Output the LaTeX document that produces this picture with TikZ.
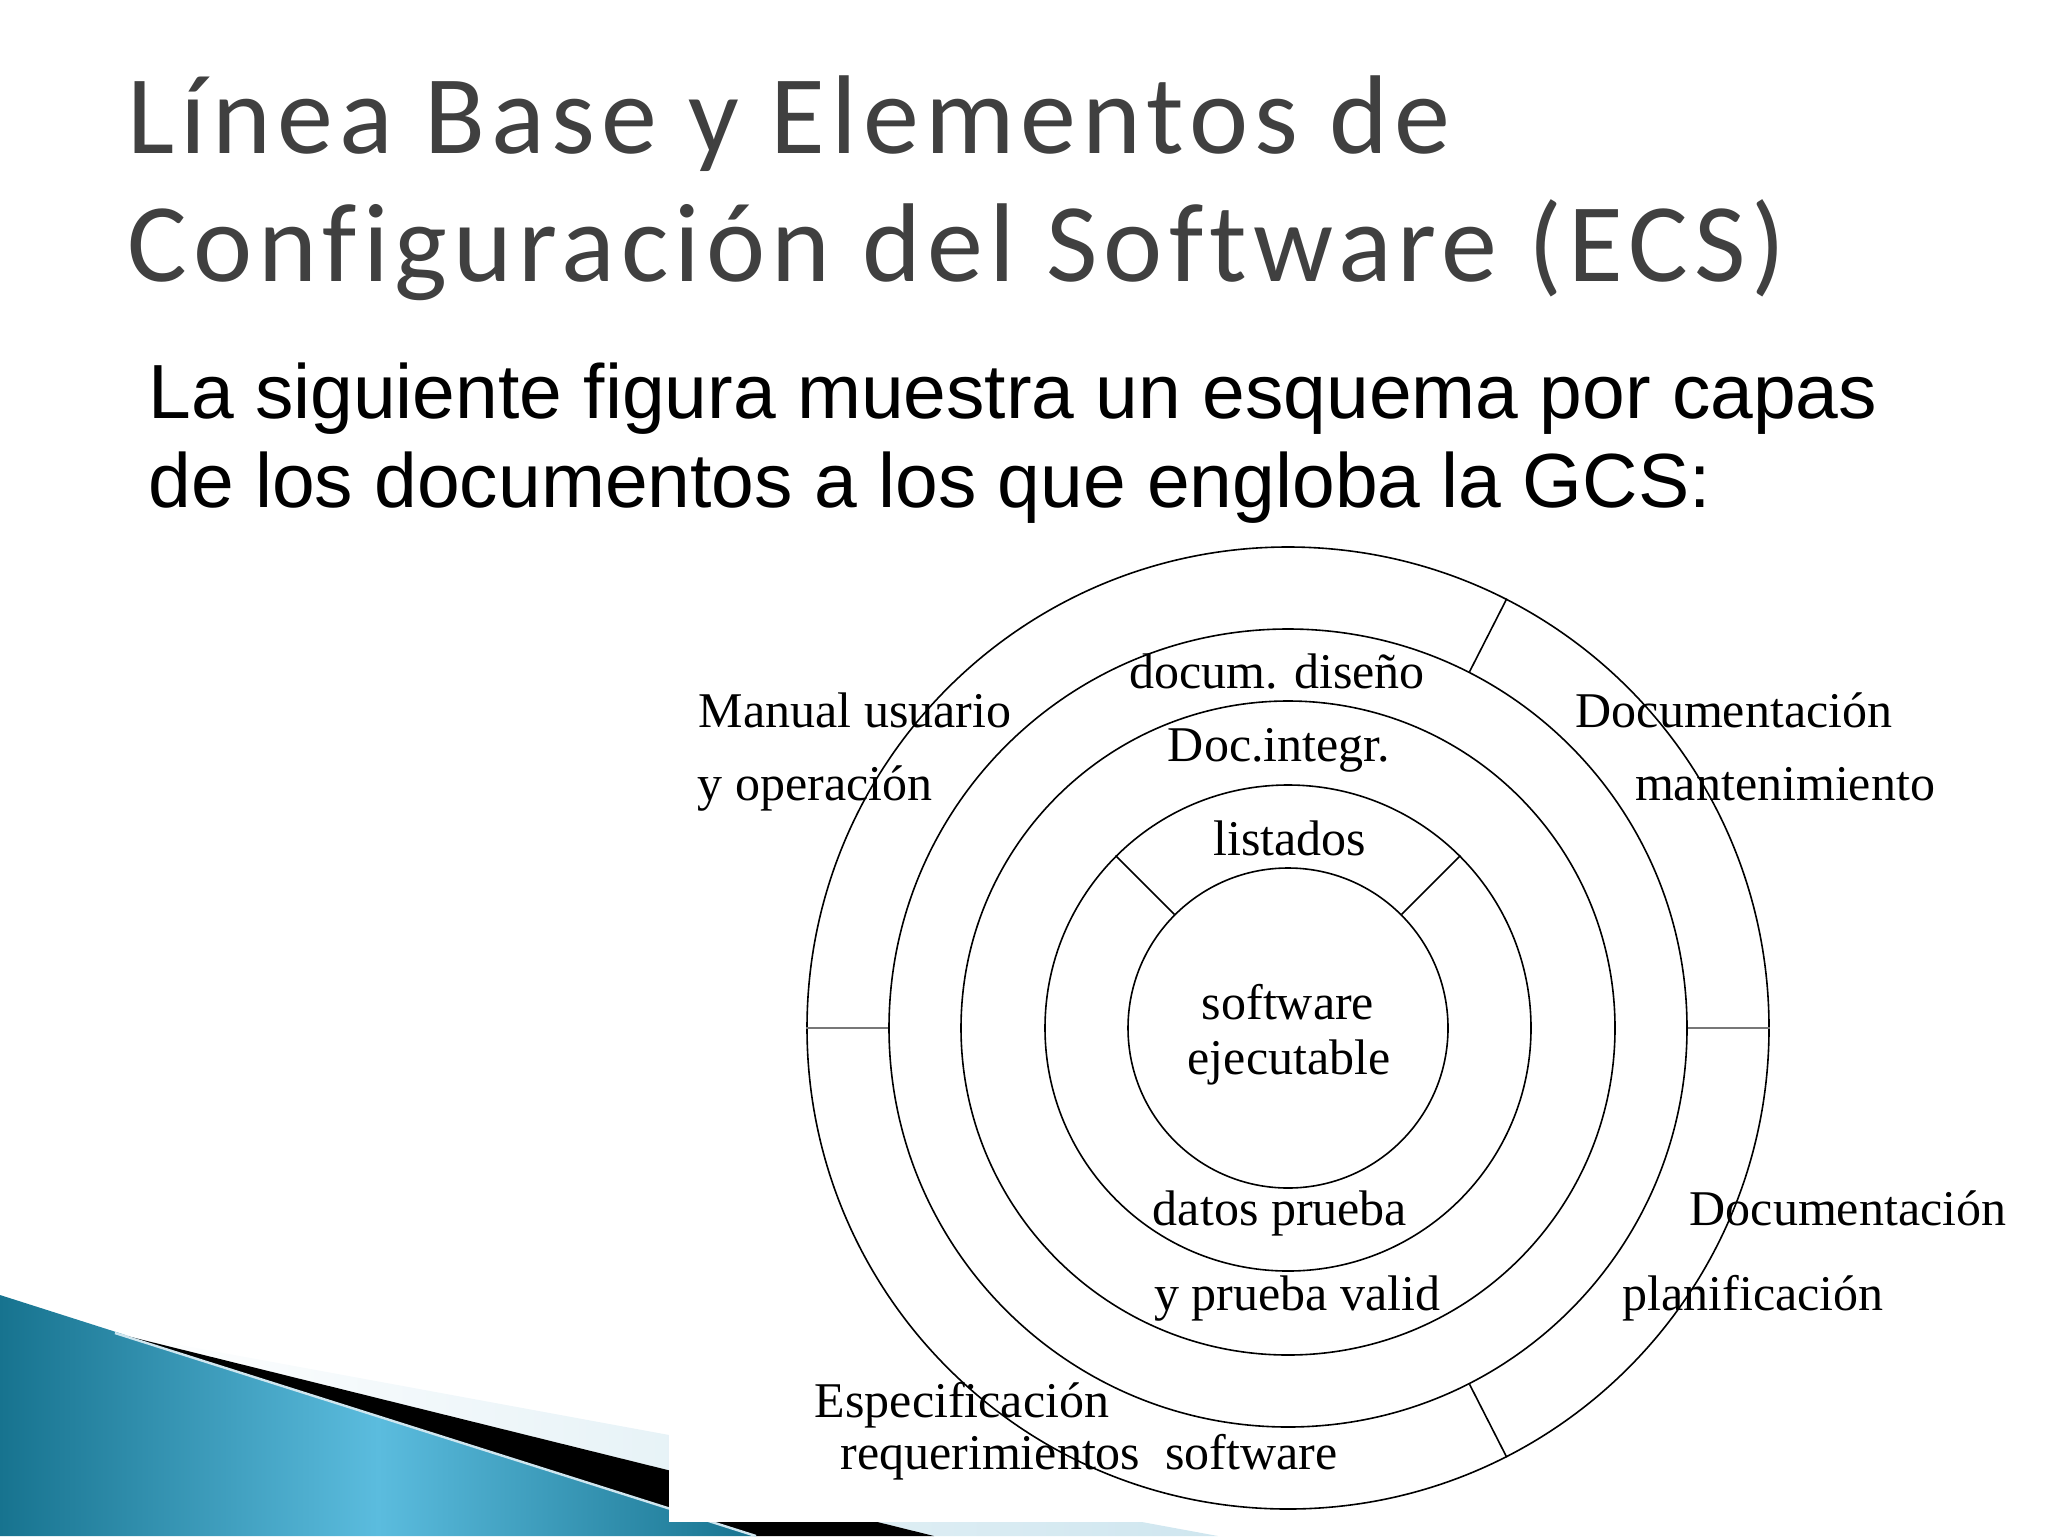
\documentclass[tikz,border=0pt]{standalone}
\usepackage{fontspec}
\setmainfont{Liberation Serif}
\newfontfamily\titlefont[LetterSpace=5.5, Ligatures={NoCommon}]{Carlito}
\newfontfamily\bodyfont{Liberation Sans}
\usetikzlibrary{positioning}
\definecolor{titlegray}{HTML}{404040}
\definecolor{flowteal}{HTML}{17738F}
\definecolor{flowsky}{HTML}{5BBCDE}
\definecolor{flowpale}{HTML}{CFE6EF}
\definecolor{spokegray}{HTML}{777777}

\begin{document}
\begin{tikzpicture}[x=0.5pt, y=-0.5pt,
    ring/.style={draw, circle, inner sep=0pt, line width=0.8pt},
    spoke/.style={line width=0.8pt},
    layer/.style={font=\fontsize{25}{30}\selectfont, inner sep=0pt, anchor=base},
    heading/.style={font=\titlefont\fontsize{56}{60}\selectfont, text=titlegray, inner sep=0pt, anchor=base west},
    intro/.style={font=\bodyfont\fontsize{38.4}{44}\selectfont, inner sep=0pt, anchor=base west}]
    \useasboundingbox (0,0) rectangle (2048,1536);

    % Corner band
    \coordinate (apex) at (115,1333);
    \shade[left color=flowteal, right color=flowteal, middle color=flowsky]
        (0,1295) -- (756,1536) -- (0,1536) -- cycle;
    \shade[left color=white, right color=flowpale] (apex) -- (1218,1536) -- (934,1536) -- cycle;
    \fill[black] (apex) -- (934,1536) -- (756,1536) -- cycle;
    \draw[flowpale, line width=1.2pt] (apex) -- (756,1536);
    \fill[white] (669,560) rectangle (2048,1522);

    % Title and text
    \node[heading] (title1) at (127,154) {Línea Base y Elementos de};
    \node[heading] (title2) at (127,281) {Configuración del Software (ECS)};
    \node[intro] (intro1) at (148,418) {La siguiente figura muestra un esquema por capas};
    \node[intro] (intro2) at (148,507) {de los documentos a los que engloba la GCS:};

    % Rings
    \coordinate (hub) at (1288,1028);
    \foreach \n/\d in {1/160,2/243,3/327,4/399,5/481} {
        \node[ring, minimum size=\d pt] (ring\n) at (hub) {};
    }

    % Spokes
    \draw[spoke] (ring5.63.5) -- (ring4.63.5);
    \draw[spoke] (ring5.-63.5) -- (ring4.-63.5);
    \draw[spoke] (ring2.45) -- (ring1.45);
    \draw[spoke] (ring2.135) -- (ring1.135);
    \draw[spoke, spokegray, line width=1.4pt] (ring5.west) -- (ring4.west);
    \draw[spoke, spokegray, line width=1.4pt] (ring5.east) -- (ring4.east);

    % Labels
    \node[layer] (usuario) at (855,727) {Manual usuario};
    \node[layer] (operacion) at (815,800) {y operación};
    \node[layer] (diseno) at (1277,688) {docum. diseño};
    \node[layer] (integr) at (1279,761) {Doc.integr.};
    \node[layer] (listados) at (1290,855) {listados};
    \node[layer] (mant1) at (1734,727) {Documentación};
    \node[layer] (mant2) at (1785,800) {mantenimiento};
    \node[layer] (soft1) at (1288,1019) {software};
    \node[layer] (soft2) at (1289,1074) {ejecutable};
    \node[layer] (datos1) at (1280,1225) {datos prueba};
    \node[layer] (datos2) at (1297,1310) {y prueba valid};
    \node[layer] (plan1) at (1848,1225) {Documentación};
    \node[layer] (plan2) at (1753,1310) {planificación};
    \node[layer] (esp1) at (962,1417) {Especificación};
    \node[layer] (esp2) at (1089,1469) {requerimientos\hspace{0.5em}software};
\end{tikzpicture}
\end{document}
